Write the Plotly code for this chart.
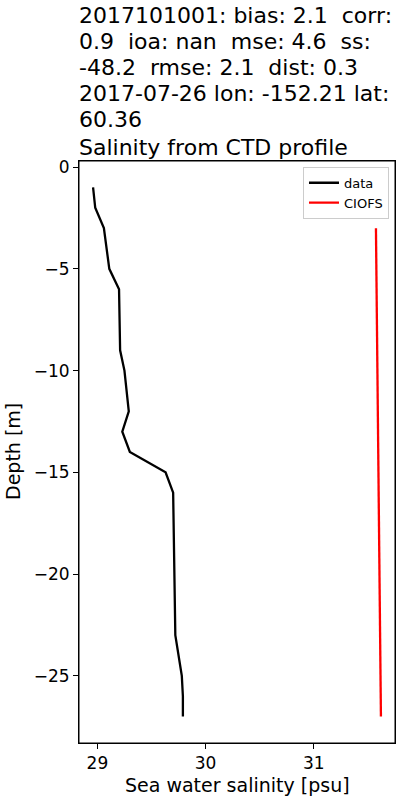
import plotly.graph_objects as go

data_depth = [-1, -2, -3, -5, -6, -9, -10, -12, -13, -14, -15, -16, -23, -25, -26, -27]
data_sal = [28.96, 28.98, 29.06, 29.11, 29.20, 29.21, 29.25, 29.29, 29.23, 29.30,
            29.63, 29.70, 29.72, 29.78, 29.79, 29.79]

# Model (CIOFS) profile
model_depth = [-3, -27]
model_sal = [31.574, 31.62]

title_lines = [
    "2017101001: bias: 2.1  corr:",
    "0.9  ioa: nan  mse: 4.6  ss:",
    "-48.2  rmse: 2.1  dist: 0.3",
    "2017-07-26 lon: -152.21 lat:",
    "60.36",
    "Salinity from CTD profile",
]
title_shift = [146, 120, 94, 68, 42, 14]  # pixels above the plot top

x_ticks = [29, 30, 31]
y_ticks = [0, -5, -10, -15, -20, -25]

FONT = "DejaVu Sans"

fig = go.Figure()
fig.add_trace(go.Scatter(x=data_sal, y=data_depth, mode="lines", name="data",
                         line=dict(color="black", width=2.3)))
fig.add_trace(go.Scatter(x=model_sal, y=model_depth, mode="lines", name="CIOFS",
                         line=dict(color="red", width=2.3)))

axis_common = dict(showline=True, linecolor="black", linewidth=1, mirror=True,
                   showgrid=False, zeroline=False, ticks="outside", ticklen=5,
                   tickcolor="black", automargin=False,
                   tickfont=dict(family=FONT, size=17, color="black"))

annotations = []
for text, shift in zip(title_lines, title_shift):
    annotations.append(dict(text=text.replace("  ", " \u00a0"), xref="paper", yref="paper",
                            x=0, y=1, xanchor="left", yanchor="middle", yshift=shift,
                            xshift=-2, align="left", showarrow=False,
                            font=dict(family=FONT, size=22, color="black")))
annotations.append(dict(text="Sea water salinity [psu]", xref="paper", yref="paper",
                        x=0.5, y=0, xanchor="center", yanchor="middle", yshift=-42,
                        showarrow=False, font=dict(family=FONT, size=19, color="black")))
annotations.append(dict(text="Depth [m]", xref="paper", yref="paper", textangle=-90,
                        x=0, y=0.5, xanchor="center", yanchor="middle", xshift=-66,
                        showarrow=False, font=dict(family=FONT, size=19, color="black")))

fig.update_layout(
    width=400, height=800,
    margin=dict(l=79, r=5, t=161, b=57, autoexpand=False),
    paper_bgcolor="white", plot_bgcolor="white",
    font=dict(family=FONT, color="black"),
    showlegend=True,
    legend=dict(x=0.981, y=0.99, xanchor="right", yanchor="top",
                bgcolor="rgba(255,255,255,0.8)", bordercolor="#cccccc", borderwidth=1,
                font=dict(family=FONT, size=13, color="black"),
                itemwidth=30, tracegroupgap=0),
    xaxis=dict(range=[28.83, 31.75], tickvals=x_ticks, **axis_common),
    yaxis=dict(range=[-28.3, 0.3], tickvals=y_ticks, **axis_common),
    annotations=annotations,
    shapes=[dict(type="rect", xref="paper", yref="paper", x0=0, y0=0, x1=1, y1=1,
                 line=dict(color="black", width=1), layer="above")],
)

fig.write_html(
    "out.html",
    config={"responsive": False, "displayModeBar": False},
    post_script="document.body.style.margin='0';document.body.style.overflow='hidden';",
)
